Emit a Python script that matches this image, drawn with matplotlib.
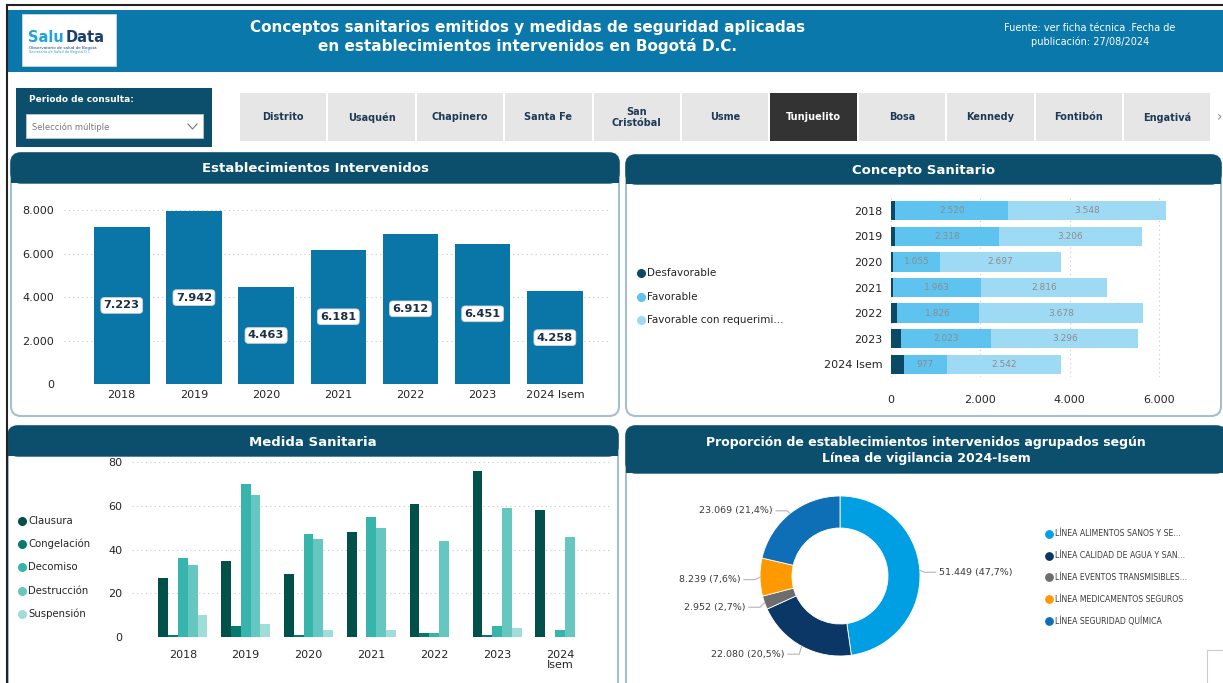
import numpy as np
import matplotlib
matplotlib.use('Agg')
import matplotlib.pyplot as plt
from matplotlib.patches import FancyBboxPatch, Rectangle

plt.rcParams['font.family'] = ['DejaVu Sans']

W, H = 1223, 683

# ---------------- datos ----------------
anios = ['2018', '2019', '2020', '2021', '2022', '2023', '2024 Isem']
establecimientos = [7223, 7942, 4463, 6181, 6912, 6451, 4258]

# concepto sanitario
concepto_series = ['Desfavorable', 'Favorable', 'Favorable con requerimi...']
desfavorable = [100, 100, 50, 55, 145, 220, 280]
favorable = [2520, 2318, 1055, 1963, 1826, 2023, 977]
favorable_req = [3548, 3206, 2697, 2816, 3678, 3296, 2542]

# medida sanitaria
medidas = ['Clausura', 'Congelación', 'Decomiso', 'Destrucción', 'Suspensión']
clausura = [27, 35, 29, 48, 61, 76, 58]
congelacion = [1, 5, 1, 0, 2, 1, 0]
decomiso = [36, 70, 47, 55, 2, 5, 3]
destruccion = [33, 65, 45, 50, 44, 59, 46]
suspension = [10, 6, 3, 3, 0, 4, 0]
anios_medida = ['2018', '2019', '2020', '2021', '2022', '2023', '2024\nIsem']

# lineas de vigilancia 2024-Isem
lineas = ['LÍNEA ALIMENTOS SANOS Y SE...', 'LÍNEA CALIDAD DE AGUA Y SAN...',
          'LÍNEA EVENTOS TRANSMISIBLES...', 'LÍNEA MEDICAMENTOS SEGUROS',
          'LÍNEA SEGURIDAD QUÍMICA']
lineas_valores = [51449, 22080, 2952, 8239, 23069]

localidades = ['Distrito', 'Usaquén', 'Chapinero', 'Santa Fe', 'San\nCristóbal', 'Usme',
               'Tunjuelito', 'Bosa', 'Kennedy', 'Fontibón', 'Engativá']
seleccionada = 'Tunjuelito'

# ---------------- colores ----------------
AZUL_HEADER = '#0a78aa'
BANDA = '#0b4f6c'
BORDE = '#a6bfcf'
TXT = '#252423'
col_concepto = ['#0b4a66', '#5ec3ee', '#9fdaf4']
col_medida = ['#02504a', '#077a6f', '#37b4ab', '#66c7c0', '#a0dcd8']
col_lineas = ['#009fe3', '#0b3766', '#6d6d6d', '#ff9900', '#0f6fb6']


def fmt(v):
    return f'{v:,}'.replace(',', '.')


def caja(x, y, w, h):
    # caja en pixeles (origen arriba-izquierda) -> rect de figura
    return [x / W, 1 - (y + h) / H, w / W, h / H]


fig = plt.figure(figsize=(W / 100, H / 100), dpi=100)
bg = fig.add_axes([0, 0, 1, 1])
bg.set_xlim(0, W)
bg.set_ylim(H, 0)
bg.axis('off')

# marco y encabezado
bg.plot([7, W], [5, 5], color='#222222', lw=1.5)
bg.plot([7, 7], [5, H], color='#222222', lw=1.5)
bg.add_patch(Rectangle((8, 10), W - 8, 62, fc=AZUL_HEADER, ec='none'))
bg.add_patch(Rectangle((22, 14), 94, 52, fc='white', ec='#dddddd', lw=0.5))
bg.text(28, 37, 'Salu', color='#1fa3dc', fontsize=10.5, fontweight='bold', va='center', ha='left')
bg.text(66, 37, 'Data', color='#1d3f6e', fontsize=10.5, fontweight='bold', va='center', ha='left')
bg.text(29, 48, 'Observatorio de salud de Bogotá', color='#1d3f6e', fontsize=3, va='center')
bg.text(29, 52, 'Secretaría de Salud de Bogotá D.C.', color='#1fa3dc', fontsize=2.5, va='center')

bg.text(528, 37, 'Conceptos sanitarios emitidos y medidas de seguridad aplicadas\nen establecimientos intervenidos en Bogotá D.C.',
        color='white', fontsize=11, fontweight='bold', ha='center', va='center', linespacing=1.25)
bg.text(1090, 35, 'Fuente: ver ficha técnica .Fecha de\npublicación: 27/08/2024',
        color='white', fontsize=7, ha='center', va='center', linespacing=1.4)

# filtro de periodo
bg.add_patch(Rectangle((16, 88), 196, 59, fc=BANDA, ec='none'))
bg.text(29, 100, 'Periodo de consulta:', color='white', fontsize=6.5, fontweight='bold', va='center')
bg.add_patch(Rectangle((26, 114), 177, 24, fc='white', ec='#cccccc', lw=0.5))
bg.text(32, 127, 'Selección múltiple', color='#777777', fontsize=6, va='center')
bg.plot([188, 192.5, 197], [124, 129, 124], color='#777777', lw=0.8)

# pestañas de localidades
for i, loc in enumerate(localidades):
    x0 = 240 + i * 88.4
    sel = loc == seleccionada
    bg.add_patch(Rectangle((x0, 93), 86.4, 48, fc='#333333' if sel else '#e6e6e6', ec='none'))
    bg.text(x0 + 43.2, 117.5, loc, color='white' if sel else '#1e3a56', fontsize=7,
            fontweight='bold', ha='center', va='center', linespacing=1.1)
bg.text(1219, 117, '›', color='#888888', fontsize=10, ha='center', va='center')


def panel(x, y, w, h, bh, titulo, fs=9.5):
    bg.add_patch(FancyBboxPatch((x, y), w, h, boxstyle='round,pad=0,rounding_size=10',
                                fc='white', ec=BORDE, lw=1.5))
    bg.add_patch(FancyBboxPatch((x, y), w, bh, boxstyle='round,pad=0,rounding_size=10',
                                fc=BANDA, ec=BANDA, lw=1))
    bg.add_patch(Rectangle((x, y + bh / 2), w, bh / 2, fc=BANDA, ec='none'))
    bg.text(x + w / 2, y + bh / 2 + 1, titulo, color='white', fontsize=fs, fontweight='bold',
            ha='center', va='center', linespacing=1.25)


panel(11, 153, 608, 263, 30, 'Establecimientos Intervenidos')
panel(626, 155, 595, 261, 29, 'Concepto Sanitario')
panel(8, 426, 610, 270, 30, 'Medida Sanitaria')
panel(626, 426, 600, 270, 47, 'Proporción de establecimientos intervenidos agrupados según\nLínea de vigilancia 2024-Isem', fs=9)

bg.add_patch(Rectangle((1207, 650), 20, 40, fc='white', ec='#cccccc', lw=0.8))

GRID = dict(color='#c8c8c8', lw=0.8, linestyle=(0, (1, 3)))

# ---------------- Establecimientos Intervenidos ----------------
ax1 = fig.add_axes(caja(64, 200, 545, 184))
ax1.patch.set_alpha(0)
x = np.arange(len(anios))
ax1.bar(x, establecimientos, width=0.77, color='#0a76a8', zorder=2)
for xi, v in zip(x, establecimientos):
    ax1.text(xi, v / 2, fmt(v), ha='center', va='center', fontsize=8.2, fontweight='bold',
             color='#1b2f45', zorder=3,
             bbox=dict(boxstyle='round,pad=0.25,rounding_size=0.3', fc='white', ec='#d5d5d5', lw=0.6))
ax1.set_xlim(-0.8, 6.75)
ax1.set_ylim(0, 8460)
ax1.set_yticks([0, 2000, 4000, 6000, 8000])
ax1.set_yticklabels([fmt(v) for v in [0, 2000, 4000, 6000, 8000]])
ax1.set_xticks(x)
ax1.set_xticklabels(anios)
ax1.yaxis.grid(True, **GRID)
ax1.set_axisbelow(True)
ax1.tick_params(length=0, labelsize=8, colors=TXT)
ax1.tick_params(axis='y', pad=7)
ax1.tick_params(axis='x', pad=4)
for s in ax1.spines.values():
    s.set_visible(False)

# ---------------- Concepto Sanitario ----------------
ax2 = fig.add_axes(caja(891, 198, 324, 179))
ax2.patch.set_alpha(0)
y = np.arange(len(anios))
izq = np.zeros(len(anios))
for serie, col, con_etiqueta in zip([desfavorable, favorable, favorable_req], col_concepto, [False, True, True]):
    ax2.barh(y, serie, left=izq, height=0.75, color=col, zorder=2)
    if con_etiqueta:
        for yi, l, v in zip(y, izq, serie):
            ax2.text(l + v / 2, yi, fmt(v), ha='center', va='center', fontsize=6.5,
                     color='#8d8d8d', zorder=3)
    izq = izq + np.array(serie)
ax2.set_xlim(0, 7254)
ax2.set_ylim(6.5, -0.5)
ax2.set_yticks(y)
ax2.set_yticklabels(anios)
ax2.set_xticks([0, 2000, 4000, 6000])
ax2.set_xticklabels([fmt(v) for v in [0, 2000, 4000, 6000]])
ax2.xaxis.grid(True, **GRID)
ax2.set_axisbelow(True)
ax2.tick_params(length=0, labelsize=8, colors=TXT)
ax2.tick_params(axis='x', pad=13)
ax2.tick_params(axis='y', pad=6)
for s in ax2.spines.values():
    s.set_visible(False)

for i, (nom, col) in enumerate(zip(concepto_series, col_concepto)):
    yy = 273 + i * 23.5
    bg.scatter(641, yy, s=30, color=col, zorder=5)
    bg.text(647, yy, nom, fontsize=7.5, color=TXT, va='center', ha='left')

# ---------------- Medida Sanitaria ----------------
ax3 = fig.add_axes(caja(132, 458, 480, 179))
ax3.patch.set_alpha(0)
xm = np.arange(len(anios_medida))
ancho = 0.156
for j, (serie, col) in enumerate(zip([clausura, congelacion, decomiso, destruccion, suspension], col_medida)):
    ax3.bar(xm + (j - 2) * ancho, serie, width=ancho, color=col, zorder=2)
ax3.set_xlim(-0.81, 6.83)
ax3.set_ylim(0, 82)
ax3.set_yticks([0, 20, 40, 60, 80])
ax3.set_xticks(xm)
ax3.set_xticklabels(anios_medida, linespacing=1.0)
ax3.yaxis.grid(True, **GRID)
ax3.set_axisbelow(True)
ax3.tick_params(length=0, labelsize=8, colors=TXT)
ax3.tick_params(axis='y', pad=7)
ax3.tick_params(axis='x', pad=9)
for s in ax3.spines.values():
    s.set_visible(False)

for i, (nom, col) in enumerate(zip(medidas, col_medida)):
    yy = 521 + i * 23.2
    bg.scatter(22, yy, s=30, color=col, zorder=5)
    bg.text(28, yy, nom, fontsize=7.3, color=TXT, va='center', ha='left')

# ---------------- Donut lineas de vigilancia ----------------
R, k = 80, 1.8
ax4 = fig.add_axes(caja(840 - R * k, 576 - R * k, 2 * R * k, 2 * R * k))
ax4.patch.set_alpha(0)
wedges, _ = ax4.pie(lineas_valores, colors=col_lineas, startangle=90, counterclock=False, radius=1,
                    wedgeprops=dict(width=0.4, edgecolor='white', linewidth=0.6))
ax4.set_xlim(-k, k)
ax4.set_ylim(-k, k)
ax4.set_aspect('equal')
ax4.axis('off')
total = sum(lineas_valores)
for w, v in zip(wedges, lineas_valores):
    ang = np.deg2rad((w.theta1 + w.theta2) / 2)
    cx, cy = np.cos(ang), np.sin(ang)
    sg = 1 if cx >= 0 else -1
    x1, y1 = 1.06 * cx, 1.08 * cy - 0.03
    x2 = x1 + sg * 0.14
    ax4.plot([1.0 * cx, x1, x2], [cy, y1, y1], color='#b5b5b5', lw=0.8)
    pct = f'{v / total * 100:.1f}'.replace('.', ',')
    ax4.text(x2 + sg * 0.04, y1, f'{fmt(v)} ({pct}%)', fontsize=6.8, color='#3a3a3a',
             ha='left' if sg > 0 else 'right', va='center')

for i, (nom, col) in enumerate(zip(lineas, col_lineas)):
    yy = 534 + i * 21.7
    bg.scatter(1049, yy, s=28, color=col, zorder=5)
    bg.text(1055, yy, nom, fontsize=5.6, color='#3a3a3a', va='center', ha='left')

fig.savefig('out.png', dpi=100)
